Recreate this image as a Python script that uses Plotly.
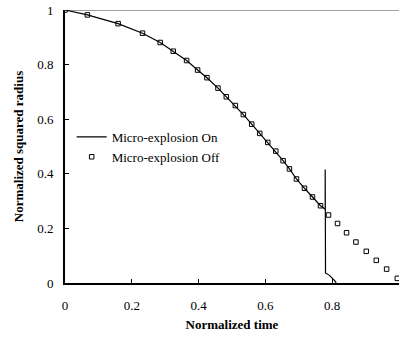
import plotly.graph_objects as go

# Micro-explosion Off (square markers)
t_off = [0, 0.067, 0.159, 0.232, 0.285, 0.324, 0.364, 0.397, 0.425, 0.458, 0.483,
         0.510, 0.534, 0.559, 0.583, 0.607, 0.631, 0.653, 0.672, 0.693, 0.717,
         0.741, 0.765, 0.789, 0.816, 0.843, 0.871, 0.902, 0.932, 0.963, 0.995]
r_off = [1.0, 0.982, 0.950, 0.915, 0.881, 0.849, 0.815, 0.780, 0.752, 0.714, 0.682,
         0.650, 0.617, 0.582, 0.548, 0.515, 0.483, 0.448, 0.418, 0.381, 0.347,
         0.315, 0.283, 0.249, 0.218, 0.184, 0.150, 0.116, 0.083, 0.051, 0.017]

# Micro-explosion On (solid line)
t_on = [0, 0.067, 0.159, 0.232, 0.285, 0.324, 0.364, 0.397, 0.425, 0.458, 0.483,
        0.510, 0.534, 0.559, 0.583, 0.607, 0.631, 0.653, 0.672, 0.693, 0.717,
        0.741, 0.765, 0.779, 0.779, 0.780, 0.792, 0.802, 0.808, 0.812]
r_on = [1.0, 0.982, 0.950, 0.915, 0.881, 0.849, 0.815, 0.780, 0.752, 0.714, 0.682,
        0.650, 0.617, 0.582, 0.548, 0.515, 0.483, 0.448, 0.418, 0.381, 0.347,
        0.315, 0.283, 0.270, 0.416, 0.037, 0.028, 0.016, 0.008, 0.0]

x_ticks = [0, 0.2, 0.4, 0.6, 0.8]
x_labels = ["0", "0.2", "0.4", "0.6", "0.8"]
y_ticks = [0, 0.2, 0.4, 0.6, 0.8, 1.0]
y_labels = ["0", "0.2", "0.4", "0.6", "0.8", "1"]

FONT = "'Liberation Serif', 'Times New Roman', serif"

fig = go.Figure()
fig.add_trace(go.Scatter(
    x=t_on, y=r_on, mode="lines", name="Micro-explosion On",
    line=dict(color="black", width=1.2),
))
fig.add_trace(go.Scatter(
    x=t_off, y=r_off, mode="markers", name="Micro-explosion Off",
    marker=dict(symbol="square-open", size=4.5, color="black", line=dict(width=1)),
    cliponaxis=True,
))

fig.add_shape(type="line", xref="paper", yref="y", x0=0, x1=1, y0=1, y1=1,
              line=dict(color="#808080", width=1.5), layer="below")

fig.update_layout(
    width=399, height=339,
    margin=dict(l=65, r=0, t=10, b=56),
    paper_bgcolor="white", plot_bgcolor="white",
    font=dict(family=FONT, size=13, color="black"),
    showlegend=True,
    legend=dict(x=0.02, y=0.59, xanchor="left", yanchor="top",
                bgcolor="rgba(0,0,0,0)", borderwidth=0,
                font=dict(family=FONT, size=13, color="black"),
                tracegroupgap=0, itemwidth=30),
    xaxis=dict(range=[0, 1], tickvals=x_ticks, ticktext=x_labels,
               showgrid=False, zeroline=False, showline=True,
               linecolor="black", linewidth=1.5, ticks="inside", ticklen=4,
               tickcolor="black", tickwidth=1, ticklabelstandoff=10,
               tickfont=dict(family=FONT, size=13),
               title=dict(text="<b>Normalized time</b>", font=dict(size=13, family=FONT), standoff=8)),
    yaxis=dict(range=[0, 1], tickvals=y_ticks, ticktext=y_labels,
               showgrid=False, zeroline=False, showline=True,
               linecolor="black", linewidth=2, ticks="inside", ticklen=4,
               tickcolor="black", tickwidth=1, ticklabelstandoff=7,
               tickfont=dict(family=FONT, size=13),
               title=dict(text="<b>Normalized squared radius</b>", font=dict(size=13, family=FONT), standoff=11)),
)

fig.write_html("out.html")
